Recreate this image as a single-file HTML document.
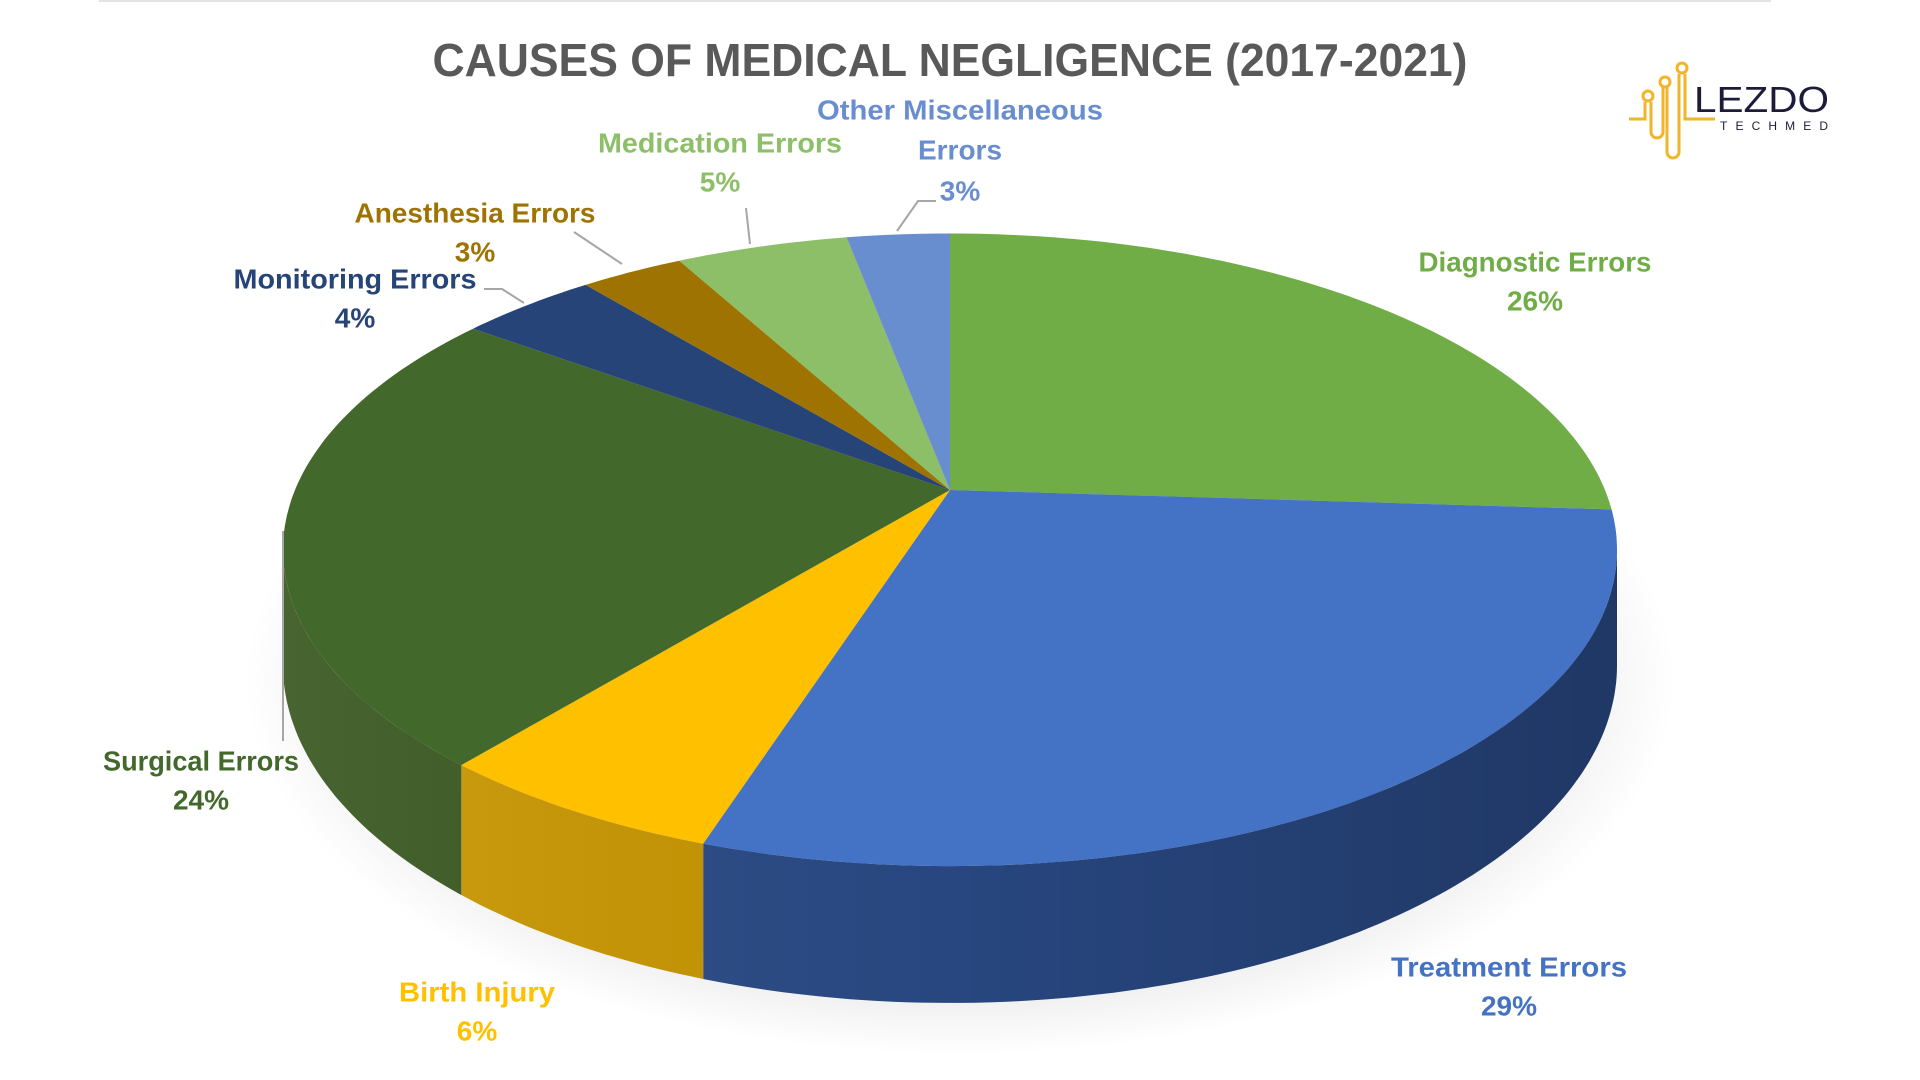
<!DOCTYPE html>
<html><head><meta charset="utf-8"><style>
html,body{margin:0;padding:0;background:#fff;}
svg{display:block;font-family:"Liberation Sans",sans-serif;font-weight:bold;}
</style></head><body>
<svg id="chart" width="1920" height="1080" viewBox="0 0 1920 1080">
<defs>
<radialGradient id="shadow" cx="50%" cy="50%" r="50%"><stop offset="70%" stop-color="#000" stop-opacity="0.12"/><stop offset="100%" stop-color="#000" stop-opacity="0"/></radialGradient>
<linearGradient id="sideShade" x1="0" y1="0" x2="1" y2="0"><stop offset="0" stop-color="#fff" stop-opacity="0.08"/><stop offset="0.5" stop-color="#000" stop-opacity="0.05"/><stop offset="1" stop-color="#000" stop-opacity="0.25"/></linearGradient>
</defs>
<line x1="99" y1="1" x2="1771" y2="1" stroke="#e3e3e3" stroke-width="2"/>
<text x="950" y="60" text-anchor="middle" dominant-baseline="central" font-size="46" fill="#595959" textLength="1035" lengthAdjust="spacingAndGlyphs">CAUSES OF MEDICAL NEGLIGENCE (2017-2021)</text>
<g id="pie"></g>
<g id="labels"></g>
<g transform="translate(1627,62)">
<g fill="none" stroke="#f2b52a" stroke-width="3">
<circle cx="55" cy="6" r="5"/><circle cx="38" cy="20" r="5"/><circle cx="21" cy="34" r="5"/>
<path d="M2 57 H18 V40 M24 40 V70 a6 6 0 0 0 12 0 V25 M40 25 V90 a6 6 0 0 0 12 0 V12 M58 12 V57 H88"/>
</g>
<text x="67" y="50" font-size="36" fill="#1c1c3a" font-weight="normal" textLength="135" lengthAdjust="spacingAndGlyphs">LEZDO</text>
<text x="93" y="68" font-size="12" fill="#1c1c3a" font-weight="normal" textLength="108" lengthAdjust="spacing">TECHMED</text>
</g>
</svg>
<script>
const categories = ["Diagnostic Errors","Treatment Errors","Birth Injury","Surgical Errors","Monitoring Errors","Anesthesia Errors","Medication Errors","Other Miscellaneous Errors"];
const values = [26,29,6,24,4,3,5,3];
const valueLabels = ["26%","29%","6%","24%","4%","3%","5%","3%"];
const topColors = ["#70ad47","#4472c4","#ffc000","#43682b","#264478","#9e7302","#8cbf67","#698ed0"];
const sideColors = ["#5a8c38","#2a4a86","#c99600","#38571f","#1d3560","#7d5b02","#74a054","#5273ad"];
const NS="http://www.w3.org/2000/svg";
// perspective projection of a tilted circle
const cx=950, cy=490, A=655, B=305, K=0.189, D=111;
function pt(deg,down){const r=deg*Math.PI/180;const u=Math.sin(r),v=Math.cos(r);const w=1+K*v;return [cx+A*u/w, cy-B*v/w+(down?D/w:0)];}
function arcPts(a,b,down){const p=[];const n=Math.max(2,Math.ceil(Math.abs(b-a)));for(let i=0;i<=n;i++)p.push(pt(a+(b-a)*i/n,down));return p;}
const pie=document.getElementById('pie');
const total=values.reduce((s,v)=>s+v,0);
const thMin=Math.acos(-K)*180/Math.PI, thMax=360-thMin;
const sh=document.createElementNS(NS,'ellipse');


sh.setAttribute('cx',cx+10);sh.setAttribute('cy',cy+190);sh.setAttribute('rx',A+60);sh.setAttribute('ry',B+70);sh.setAttribute('fill','url(#shadow)');
pie.appendChild(sh);
let angles=[];let acc=0;
values.forEach(v=>{const a=acc/total*360;acc+=v;angles.push([a,acc/total*360]);});
angles.forEach(([a,b],i)=>{
  const s=Math.max(a,thMin), e=Math.min(b,thMax);
  if(e<=s) return;
  const top=arcPts(s,e,false), bot=arcPts(e,s,true);
  const d='M'+top.concat(bot).map(p=>p[0].toFixed(1)+' '+p[1].toFixed(1)).join(' L')+'Z';
  const p=document.createElementNS(NS,'path');
  
  
  p.setAttribute('d',d);p.setAttribute('fill',sideColors[i]);
  pie.appendChild(p);
});
const shade=document.createElementNS(NS,'path');


shade.setAttribute('d','M'+arcPts(thMin,thMax,false).concat(arcPts(thMax,thMin,true)).map(p=>p[0].toFixed(1)+' '+p[1].toFixed(1)).join(' L')+'Z');
shade.setAttribute('fill','url(#sideShade)');
pie.appendChild(shade);
angles.forEach(([a,b],i)=>{
  const pts=arcPts(a,b,false);
  const d='M'+cx+' '+cy+' L'+pts.map(p=>p[0].toFixed(1)+' '+p[1].toFixed(1)).join(' L')+'Z';
  const p=document.createElementNS(NS,'path');
  
  
  p.setAttribute('d',d);p.setAttribute('fill',topColors[i]);
  pie.appendChild(p);
});
const labelColors=["#70ad47","#4472c4","#ffc000","#43682b","#264478","#9e7302","#8cbf67","#698ed0"];
const labelPos=[[1535,262,233],[1509,967,236],[477,992,156],[201,761,196],[355,279,243],[475,213,241],[720,143,244],[960,110,286]];
const L=document.getElementById('labels');
function txt(x,y,s,col,w,name){
  const t=document.createElementNS(NS,'text');
  
  
  t.setAttribute('x',x);t.setAttribute('y',y);t.setAttribute('text-anchor','middle');t.setAttribute('dominant-baseline','central');
  t.setAttribute('font-size','28');t.setAttribute('fill',col);
  if(w){t.setAttribute('textLength',w);t.setAttribute('lengthAdjust','spacingAndGlyphs');}
  t.textContent=s;L.appendChild(t);
}
categories.forEach((c,i)=>{
  const [x,y,w]=labelPos[i];
  if(i===7){
    txt(x,y,"Other Miscellaneous",labelColors[i],w,'label-other-line1');
    txt(x,y+40,"Errors",labelColors[i],null,'label-other-line2');
    txt(x,y+81,valueLabels[i],labelColors[i],null,'value-other');
  } else {
    txt(x,y,c,labelColors[i],w,'label-'+c.toLowerCase().replace(/\s+/g,'-'));
    txt(x,y+39,valueLabels[i],labelColors[i],null,'value-'+c.toLowerCase().replace(/\s+/g,'-'));
  }
});
const leaders=[[[484,289],[502,289],[524,303]],[[574,232],[622,264]],[[746,208],[750,244]],[[936,201],[918,201],[897,231]],[[283,531],[283,741]]];
leaders.forEach((pts,i)=>{
  const pl=document.createElementNS(NS,'polyline');
  
  
  pl.setAttribute('points',pts.map(p=>p.join(',')).join(' '));
  pl.setAttribute('fill','none');pl.setAttribute('stroke','#a6a6a6');pl.setAttribute('stroke-width','2');
  L.appendChild(pl);
});
</script>
</body></html>
